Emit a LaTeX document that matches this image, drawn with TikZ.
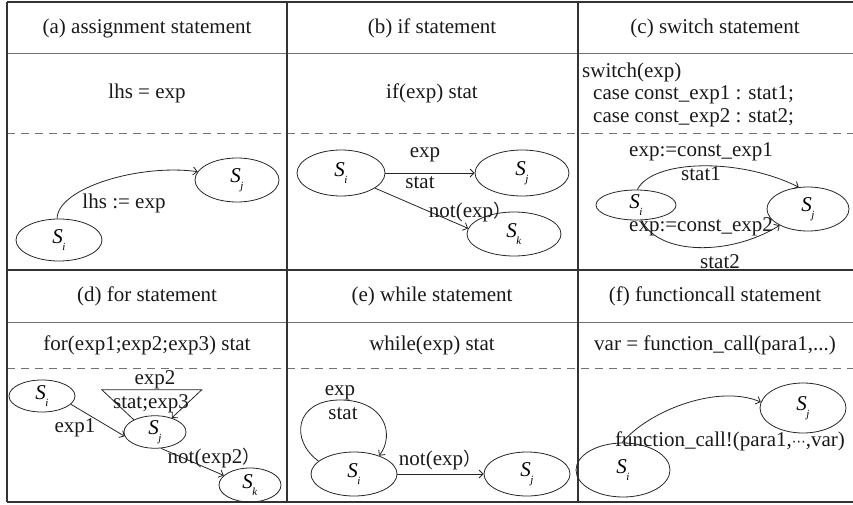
\documentclass[tikz,border=0pt]{standalone}
\usepackage{fontspec}
\setmainfont{Liberation Serif}
\newfontfamily\cjkfont{Noto Sans CJK SC}
\newfontfamily\symfont{DejaVu Sans}
\usetikzlibrary{shapes.geometric,arrows.meta}
\newcommand{\Sx}[1]{\textit{S}\kern-0.5pt\raisebox{-0.32em}{\fontsize{11}{11}\selectfont\textit{#1}}}
\newcommand{\fwp}{{\cjkfont\fontsize{18}{20}\selectfont ）}}
\begin{document}
\begin{tikzpicture}[x=1pt,y=-1pt,
  txt/.style={font=\fontsize{21}{25}\selectfont, inner sep=0pt, text=black!90},
  st/.style={ellipse, draw=black!85, line width=0.8pt, inner sep=0pt, font=\fontsize{21}{25}\selectfont},
  arr/.style={draw=black!85, line width=0.8pt, -{Straight Barb[length=4pt,width=8pt]}},
  frame/.style={draw=black!80, line width=1.4pt},
  sep/.style={draw=black!55, line width=1pt},
  dsh/.style={draw=black!55, line width=1pt, dash pattern=on 8pt off 6pt},
]
\path[use as bounding box] (0,0) rectangle (853,505);
% table
\draw[sep] (7,54) -- (853,54);
\draw[sep] (7,322) -- (853,322);
\draw[dsh] (7,134) -- (853,134);
\draw[dsh] (7,368) -- (853,368);
\draw[frame] (7,2) -- (853,2);
\draw[frame] (7,270) -- (853,270);
\draw[frame] (7,502) -- (853,502);
\draw[frame] (7,2) -- (7,502);
\draw[frame] (287,2) -- (287,502);
\draw[frame] (578,2) -- (578,502);
% headers
\node[txt] (ha) at (147,28) {(a) assignment statement};
\node[txt] (hb) at (432,28) {(b) if statement};
\node[txt] (hc) at (715,28) {(c) switch statement};
\node[txt] (hd) at (147,296) {(d) for statement};
\node[txt] (he) at (432,296) {(e) while statement};
\node[txt] (hf) at (715,296) {(f) functioncall statement};
% code
\node[txt] (ca) at (147,93) {lhs = exp};
\node[txt] (cb) at (432,93) {if(exp) stat};
\node[txt,anchor=base west] (cc1) at (582,78) {switch(exp)};
\node[txt,anchor=base west] (cc2) at (593,100) {case const\_exp1 : stat1;};
\node[txt,anchor=base west] (cc3) at (593,123) {case const\_exp2 : stat2;};
\node[txt] (cd) at (147,345) {for(exp1;exp2;exp3) stat};
\node[txt] (ce) at (432,345) {while(exp) stat};
\node[txt] (cf) at (715,345) {var = function\_call(para1,...)};
% (a)
\node[st,minimum width=86pt,minimum height=42pt] (asi) at (59,240) {\Sx{i}};
\node[st,minimum width=84pt,minimum height=44pt] (asj) at (237,180) {\Sx{j}};
\draw[arr] (asi.95) .. controls +(0,-30) and +(-60,-8) .. (asj.168);
\node[txt] (la) at (124,203) {lhs := exp};
% (b)
\node[st,minimum width=88pt,minimum height=46pt] (bsi) at (341,173) {\Sx{i}};
\node[st,minimum width=94pt,minimum height=46pt] (bsj) at (522,173) {\Sx{j}};
\node[st,minimum width=94pt,minimum height=44pt] (bsk) at (514,234) {\Sx{k}};
\draw[arr] (bsi.east) -- (bsj.west);
\draw[arr] (bsi.-24) -- (bsk.173);
\node[txt] (lb1) at (425,155) {exp};
\node[txt] (lb2) at (420,183) {stat};
\node[txt] (lb3) at (470,212) {not(exp\fwp};
% (c)
\node[st,minimum width=80pt,minimum height=30pt] (csi) at (636,205) {\Sx{i}};
\node[st,minimum width=82pt,minimum height=44pt] (csj) at (808,209) {\Sx{j}};
\draw[arr] (csi.85) .. controls +(15,-30) and +(-60,-30) .. (csj.113);
\draw[arr] (csi.-70) .. controls +(17,35) and +(-50,31) .. (csj.210);
\node[txt] (lc1) at (701,152) {exp:=const\_exp1};
\node[txt] (lc2) at (701,174) {stat1};
\node[txt] (lc3) at (701,227) {exp:=const\_exp2};
\node[txt] (lc4) at (720,262) {stat2};
% (d)
\node[st,minimum width=66pt,minimum height=32pt] (dsi) at (42,396) {\Sx{i}};
\node[st,minimum width=62pt,minimum height=32pt] (dsj) at (155,432) {\Sx{j}};
\node[st,minimum width=62pt,minimum height=34pt] (dsk) at (250,485) {\Sx{k}};
\draw[arr] (dsi.-16) -- (dsj.188);
\draw[arr] (dsj.150) -- ++(-32,-30) -- ++(100,0) -- (dsj.40);
\draw[arr] (dsj.-70) -- (dsk.160);
\node[txt] (ld1) at (75,428) {exp1};
\node[txt] (ld2) at (155,380) {exp2};
\node[txt] (ld3) at (151,404) {stat;exp3};
\node[txt] (ld4) at (214,458) {not(exp2\fwp};
% (e)
\node[st,minimum width=86pt,minimum height=44pt] (esi) at (354,474) {\Sx{i}};
\node[st,minimum width=86pt,minimum height=44pt] (esj) at (527,474) {\Sx{j}};
\draw[arr] (esi.east) -- (esj.west);
\draw[arr] (esi.160) .. controls +(-29,-21) and +(-45,0) .. (340,400) .. controls +(45,0) and +(16,-21) .. (esi.36);
\node[txt] (le1) at (340,393) {exp};
\node[txt] (le2) at (343,414) {stat};
\node[txt] (le3) at (440,460) {not(exp\fwp};
% (f)
\node[st,minimum width=94pt,minimum height=54pt] (fsi) at (623,470) {\Sx{i}};
\node[st,minimum width=86pt,minimum height=50pt] (fsj) at (803,408) {\Sx{j}};
\draw[arr] (fsi.92) .. controls +(28,-33) and +(-42,-18) .. (fsj.172);
\node[txt] (lf) at (730,441) {function\_call!(para1,{\symfont\fontsize{14}{16}\selectfont ⋯},var)};
\end{tikzpicture}
\end{document}
